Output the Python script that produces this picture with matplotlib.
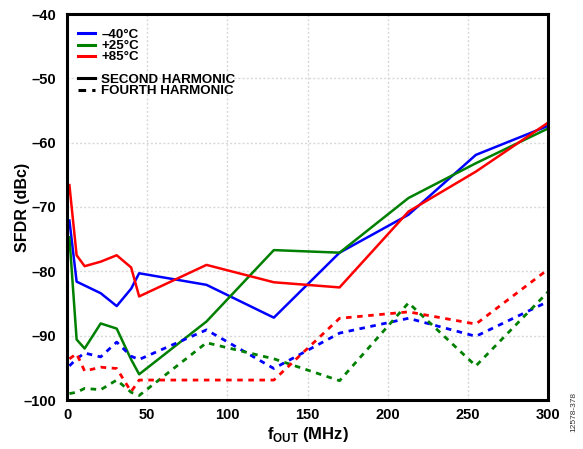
import matplotlib
matplotlib.use("Agg")
import matplotlib.pyplot as plt
from matplotlib.lines import Line2D

plt.rcParams['font.family'] = ['Liberation Sans', 'DejaVu Sans']
plt.rcParams['font.weight'] = 'bold'
plt.rcParams['mathtext.fontset'] = 'custom'
plt.rcParams['mathtext.bf'] = 'Liberation Sans:bold'
plt.rcParams['mathtext.rm'] = 'Liberation Sans:bold'

f_mhz = [1.5, 6, 11, 21, 31, 40, 45, 87, 129, 170, 213, 255, 300]

second_m40 = [-72.1, -81.6, -82.2, -83.4, -85.4, -82.7, -80.3, -82.1, -87.2, -77.1, -71.2, -61.9, -57.4]
second_p25 = [-74.7, -90.6, -92.0, -88.1, -88.9, -93.7, -96.0, -87.8, -76.7, -77.1, -68.6, -63.2, -57.8]
second_p85 = [-66.6, -77.5, -79.2, -78.5, -77.5, -79.4, -83.9, -79.0, -81.7, -82.5, -70.7, -64.5, -56.9]

fourth_m40 = [-94.7, -93.6, -92.7, -93.3, -91.0, -93.2, -93.7, -89.1, -95.1, -89.6, -87.3, -90.1, -84.7]
fourth_p25 = [-99.0, -98.8, -98.2, -98.4, -96.9, -98.8, -99.3, -91.1, -93.6, -97.0, -84.9, -94.7, -83.2]
fourth_p85 = [-93.6, -92.8, -95.5, -94.9, -95.1, -98.7, -96.9, -96.9, -96.9, -87.3, -86.3, -88.2, -79.7]

temps = ['–40°C', '+25°C', '+85°C']
colors = ['#0000FF', '#008000', '#FF0000']

x_ticks = [0, 50, 100, 150, 200, 250, 300]
y_ticks = [-100, -90, -80, -70, -60, -50, -40]
y_tick_labels = ['–100', '–90', '–80', '–70', '–60', '–50', '–40']

fig = plt.figure(figsize=(5.83, 4.49), dpi=100)
ax = fig.add_axes([67/583, 1 - 400/449, (548-67)/583, (400-14)/449])

seconds = [second_m40, second_p25, second_p85]
fourths = [fourth_m40, fourth_p25, fourth_p85]
for s, c in zip(seconds, colors):
    ax.plot(f_mhz, s, color=c, lw=1.8)
for s, c in zip(fourths, colors):
    ax.plot(f_mhz, s, color=c, lw=2.0, linestyle=(0, (2.0, 2.0)))

ax.set_xlim(0, 300)
ax.set_ylim(-100, -40)
ax.set_xticks(x_ticks)
ax.set_xticklabels([str(v) for v in x_ticks])
ax.set_yticks(y_ticks)
ax.set_yticklabels(y_tick_labels)
ax.tick_params(length=0, labelsize=10.5)
ax.tick_params(axis='y', pad=8)
ax.tick_params(axis='x', pad=6)
for lab in ax.get_xticklabels() + ax.get_yticklabels():
    lab.set_fontweight('bold')
ax.grid(True, color='#d8d8d8', linestyle=(0, (1.5, 1.5)), lw=1.0)
for sp in ax.spines.values():
    sp.set_linewidth(2.2)

ax.set_xlabel(r'f$_{\mathbf{OUT}}$ (MHz)', fontsize=12, fontweight='bold')
ax.set_ylabel('SFDR (dBc)', fontsize=11.5, fontweight='bold')
ax.yaxis.set_label_coords((23 - 67) / 481, 0.5)
ax.yaxis.label.set_va('center')
ax.xaxis.set_label_coords(0.5, -(439 - 400) / 386)
ax.xaxis.label.set_va('baseline')

handles = [Line2D([], [], color=c, lw=2.2) for c in colors]
handles.append(Line2D([], [], color='none'))
handles.append(Line2D([], [], color='black', lw=2.2))
handles.append(Line2D([], [], color='black', lw=2.2, linestyle=(0, (2.5, 2.0))))
labels = temps + ['', 'SECOND HARMONIC', 'FOURTH HARMONIC']
leg = ax.legend(handles, labels, loc='upper left', frameon=False,
                handlelength=1.25, handletextpad=0.5, labelspacing=-0.08,
                borderaxespad=0.0, bbox_to_anchor=(0.012, 0.976),
                prop={'weight': 'bold', 'size': 9.6})

fig.text(574/583, 1 - 412/449, '12578-378', rotation=90, fontsize=6,
         fontweight='normal', ha='center', va='center', color='#333333')

fig.savefig('out.png', dpi=100)
